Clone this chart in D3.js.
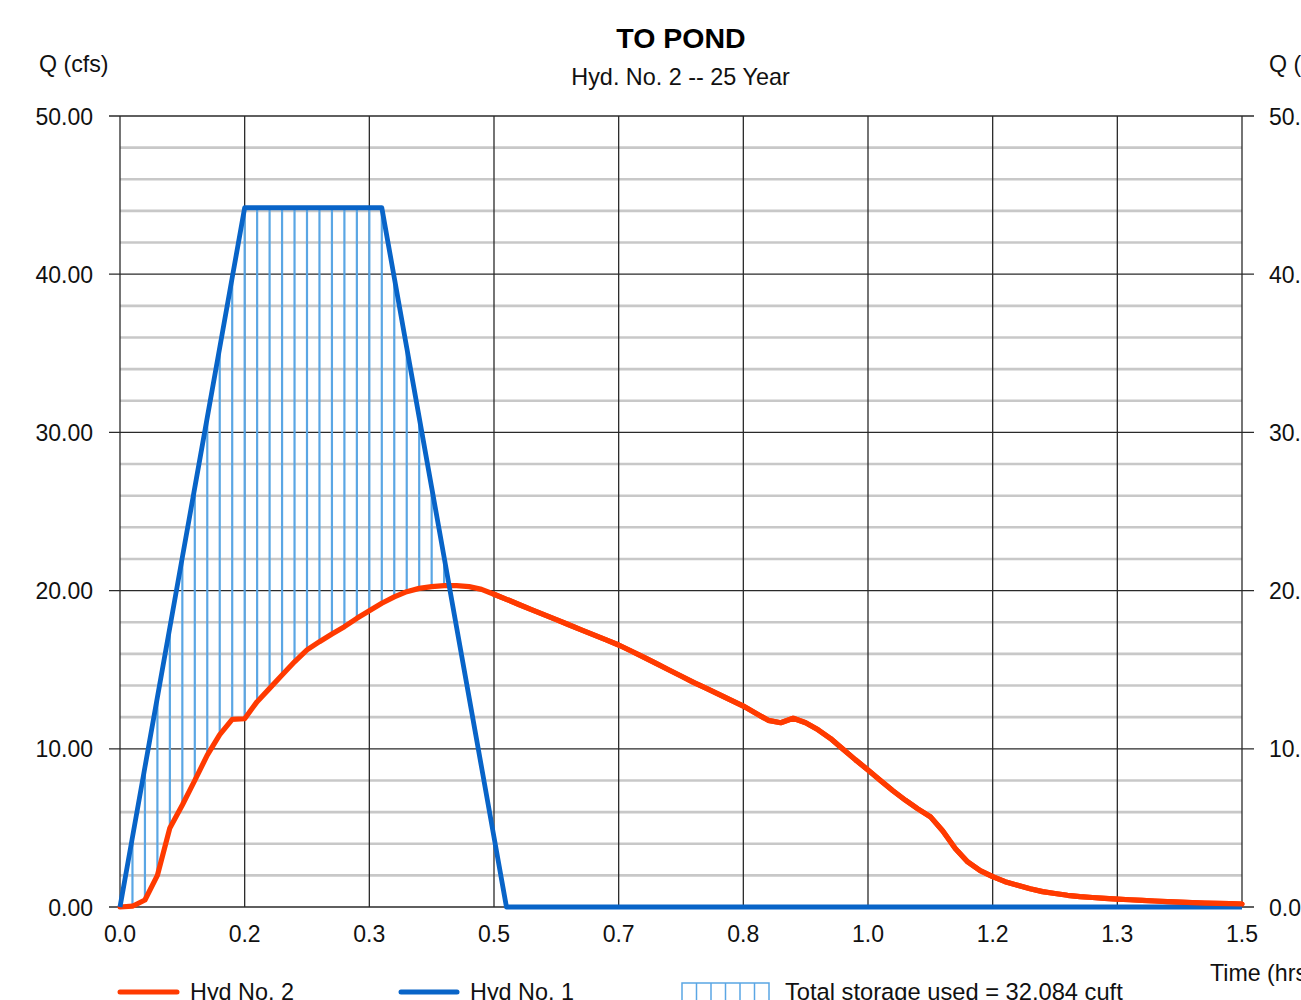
<!DOCTYPE html>
<html><head><meta charset="utf-8">
<script src="https://cdn.jsdelivr.net/npm/d3@7"></script>
<style>body{margin:0;background:#fff;} text{font-family:"Liberation Sans",Arial,sans-serif;}</style>
</head><body>
<svg id="c" width="1301" height="1000"></svg>
<script>
// ---- data ----
const timeMin = [0,1,2,3,4,5,6,7,8,9,10,11,12,13,14,15,16,17,18,19,20,21,22,23,24,25,26,27,28,29,30,
  31,32,33,34,35,36,37,38,39,40,41,42,43,44,45,46,47,48,49,50,51,52,53,54,55,56,57,58,59,60,
  61,62,63,64,65,66,67,68,69,70,71,72,73,74,75,76,77,78,79,80,81,82,83,84,85,86,87,88,89,90];
const hyd1 = [0,4.42,8.84,13.26,17.68,22.10,26.52,30.94,35.36,39.78,44.2,44.2,44.2,44.2,44.2,44.2,44.2,44.2,44.2,44.2,44.2,
  44.2,39.78,35.36,30.94,26.52,22.10,17.68,13.26,8.84,4.42,0,0,0,0,0,0,0,0,0,0,
  0,0,0,0,0,0,0,0,0,0,0,0,0,0,0,0,0,0,0,0,0,0,0,0,0,0,0,0,0,0,0,0,0,0,0,0,0,0,0,0,0,0,0,0,0,0,0,0,0,0];
const hyd2 = [0,0.05,0.44,2.0,5.0,6.45,8.0,9.6,10.9,11.86,11.9,12.98,13.82,14.66,15.5,16.25,16.77,17.26,17.72,18.25,18.73,
  19.2,19.6,19.93,20.14,20.25,20.31,20.31,20.25,20.08,19.77,19.45,19.12,18.8,18.48,18.16,17.84,17.52,17.2,16.88,16.56,
  16.18,15.79,15.4,15.0,14.6,14.2,13.84,13.46,13.08,12.7,12.25,11.8,11.65,11.93,11.65,11.2,10.65,9.97,9.3,8.66,
  8.0,7.35,6.75,6.2,5.71,4.8,3.7,2.85,2.3,1.92,1.6,1.37,1.15,0.97,0.85,0.74,0.66,0.6,0.55,0.5,
  0.46,0.42,0.38,0.34,0.31,0.28,0.25,0.23,0.21,0.19];
const xTicks = [0, 1/6, 2/6, 3/6, 4/6, 5/6, 1, 7/6, 8/6, 1.5];
const yMajor = [0,10,20,30,40,50];
const yMinor = [2,4,6,8,12,14,16,18,22,24,26,28,32,34,36,38,42,44,46,48];
const title = "TO POND", subtitle = "Hyd. No. 2 -- 25 Year";
const legendItems = ["Hyd No. 2","Hyd No. 1","Total storage used = 32,084 cuft"];

// ---- drawing ----
const svg = d3.select("#c");
const L=120, R=1242, T=116, B=907;
const x = d3.scaleLinear().domain([0,1.5]).range([L,R]);
const y = d3.scaleLinear().domain([0,50]).range([B,T]);
const RED="#ff3a00", BLUE="#0864c8", HATCH="#5aa6e4";

svg.append("g").selectAll("line").data(yMinor).join("line")
  .attr("x1",L).attr("x2",R).attr("y1",d=>y(d)).attr("y2",d=>y(d))
  .attr("stroke","#c8c8c8").attr("stroke-width",2.6);
svg.append("g").selectAll("line").data(yMajor).join("line")
  .attr("x1",L-11).attr("x2",R+12).attr("y1",d=>y(d)).attr("y2",d=>y(d))
  .attr("stroke","#2a2a2a").attr("stroke-width",1.3);
svg.append("g").selectAll("line").data(xTicks).join("line")
  .attr("x1",d=>x(d)).attr("x2",d=>x(d)).attr("y1",T).attr("y2",B)
  .attr("stroke","#2a2a2a").attr("stroke-width",1.3);

const fmtY = d3.format(".2f");
svg.append("g").selectAll("text").data(yMajor).join("text")
  .attr("x",93).attr("y",d=>y(d)+8.5).attr("text-anchor","end")
  .attr("font-size",23).attr("fill","#111").text(fmtY);
svg.append("g").selectAll("text").data(yMajor).join("text")
  .attr("x",1269).attr("y",d=>y(d)+8.5)
  .attr("font-size",23).attr("fill","#111").text(fmtY);
const fmtX = d3.format(".1f");
svg.append("g").selectAll("text").data(xTicks).join("text")
  .attr("x",d=>x(d)).attr("y",942).attr("text-anchor","middle")
  .attr("font-size",23).attr("fill","#111").text(fmtX);

svg.append("text").attr("x",681).attr("y",48).attr("text-anchor","middle")
  .attr("font-size",28.5).attr("font-weight","bold").attr("fill","#000").text(title);
svg.append("text").attr("x",680.5).attr("y",85).attr("text-anchor","middle")
  .attr("font-size",23.4).attr("fill","#111").text(subtitle);
svg.append("text").attr("x",39).attr("y",72).attr("font-size",23.2).attr("fill","#111").text("Q (cfs)");
svg.append("text").attr("x",1269).attr("y",72).attr("font-size",23.2).attr("fill","#111").text("Q (cfs)");
svg.append("text").attr("x",1210).attr("y",981).attr("font-size",23.2).attr("fill","#111").text("Time (hrs)");

const pts = timeMin.map((t,i)=>({t:t/60,a:hyd1[i],b:hyd2[i]})).filter(d=>d.a>d.b);
svg.append("g").selectAll("line").data(pts).join("line")
  .attr("x1",d=>x(d.t)).attr("x2",d=>x(d.t)).attr("y1",d=>y(d.b)).attr("y2",d=>y(d.a))
  .attr("stroke",HATCH).attr("stroke-width",2.2);

const line = d3.line().x(d=>x(d[0])).y(d=>y(d[1]));
const redPath = svg.append("path").attr("d",line(timeMin.map((t,i)=>[t/60,hyd2[i]])))
  .attr("fill","none").attr("stroke",RED).attr("stroke-width",5.2).attr("stroke-linejoin","round").attr("stroke-linecap","round");
svg.append("path").attr("d",line(timeMin.map((t,i)=>[t/60,hyd1[i]])))
  .attr("fill","none").attr("stroke",BLUE).attr("stroke-width",4.8).attr("stroke-linejoin","round");
// red tail drawn over the blue baseline, as in the reference
svg.append("path").attr("d",line(timeMin.map((t,i)=>[t/60,hyd2[i]]).filter(d=>d[0]>=0.5)))
  .attr("fill","none").attr("stroke",RED).attr("stroke-width",5.2).attr("stroke-linejoin","round").attr("stroke-linecap","round");

const lg = svg.append("g");
lg.append("line").attr("x1",120).attr("x2",177).attr("y1",992).attr("y2",992)
  .attr("stroke",RED).attr("stroke-width",5).attr("stroke-linecap","round");
lg.append("text").attr("x",190).attr("y",1000).attr("font-size",23.4).attr("fill","#111").text(legendItems[0]);
lg.append("line").attr("x1",401).attr("x2",457).attr("y1",992).attr("y2",992)
  .attr("stroke",BLUE).attr("stroke-width",5).attr("stroke-linecap","round");
lg.append("text").attr("x",470).attr("y",1000).attr("font-size",23.4).attr("fill","#111").text(legendItems[1]);
lg.append("rect").attr("x",682).attr("y",983).attr("width",87).attr("height",30)
  .attr("fill","none").attr("stroke",HATCH).attr("stroke-width",1.5);
lg.selectAll(".h").data([1,2,3,4,5]).join("line").attr("class","h")
  .attr("x1",d=>682+d*14.5).attr("x2",d=>682+d*14.5).attr("y1",983).attr("y2",1013)
  .attr("stroke",HATCH).attr("stroke-width",1.5);
lg.append("text").attr("x",785).attr("y",1000).attr("font-size",23.7).attr("fill","#111").text(legendItems[2]);
</script>
</body></html>
